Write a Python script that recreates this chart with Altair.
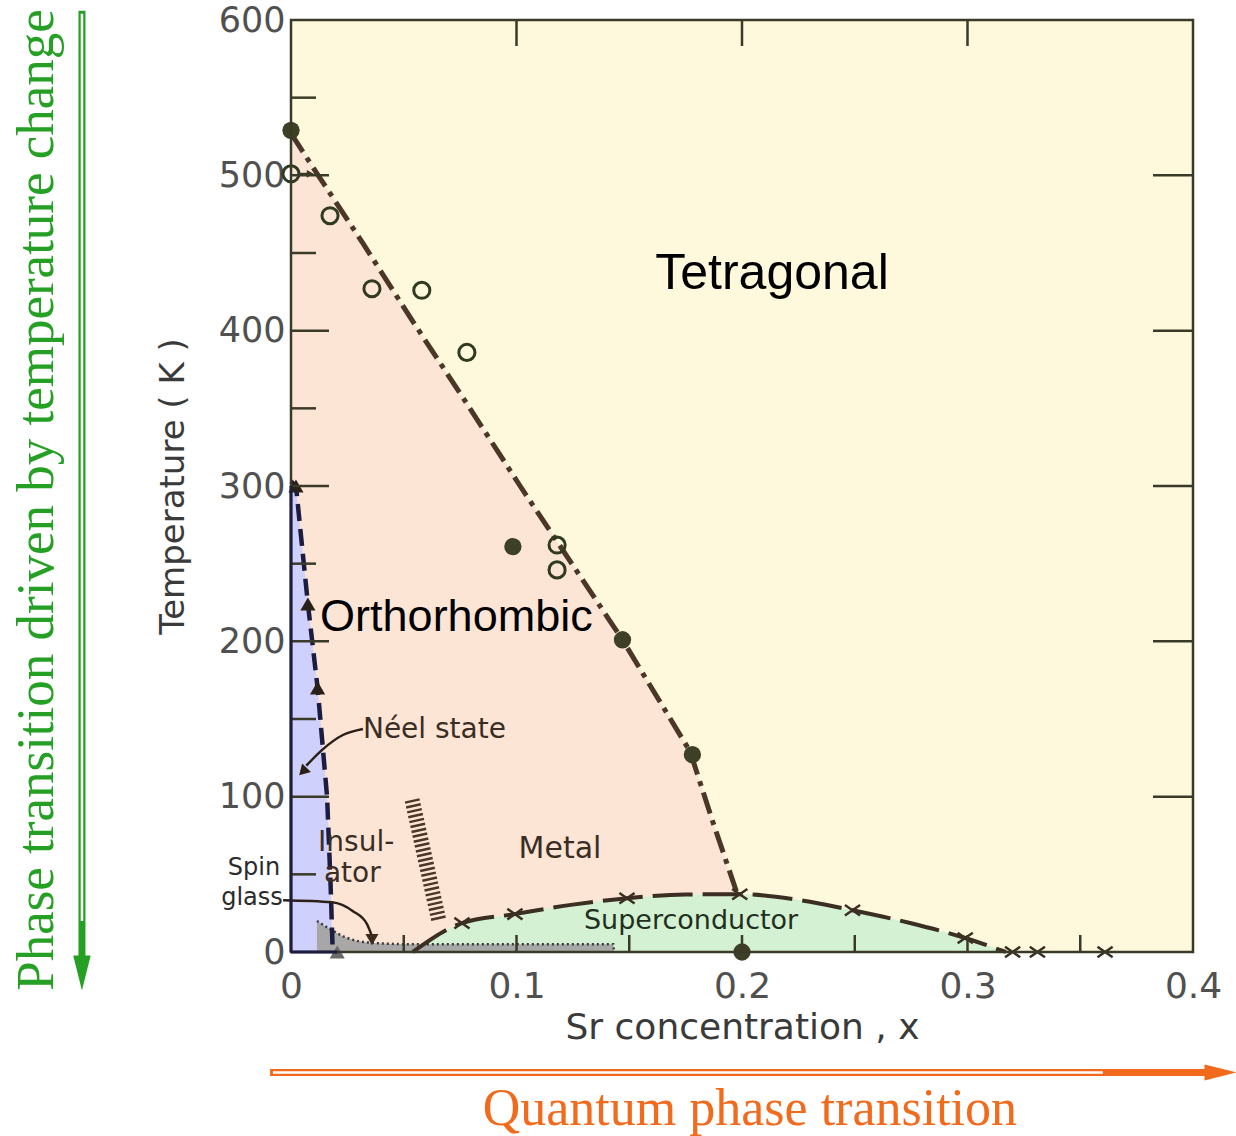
import altair as alt
import pandas as pd

# ---------------- data ----------------
# orthorhombic / tetragonal boundary (dash-dot line)
ortho_x = [0.0, 0.0098, 0.032, 0.054, 0.078, 0.1016, 0.147, 0.177, 0.187, 0.198]
ortho_T = [527, 505, 456, 406, 353, 300, 201, 129, 84, 37]

# Neel line (dashed)
neel_x = [0.0, 0.0022, 0.0075, 0.0118, 0.0160, 0.0175, 0.0185]
neel_T = [303, 300, 224, 170, 100, 46, 0]

# superconducting dome
dome_x = [0.054, 0.0758, 0.0993, 0.125, 0.149, 0.175, 0.199, 0.225, 0.249, 0.275, 0.299, 0.317]
dome_T = [0, 18.6, 24.4, 30.5, 34.6, 37.0, 37.2, 33.5, 26.9, 18.5, 9.0, 0]

# spin-glass (stippled) region
glass_x = [0.0115, 0.017, 0.025, 0.035, 0.054, 0.100, 0.143, 0.1432]
glass_T = [20, 15, 9, 6, 5, 5, 5, 0]

# measured points
open_x = [0.0, 0.0173, 0.0359, 0.058, 0.078, 0.118, 0.118]
open_T = [501, 474, 427, 426, 386, 262, 246]
filled_x = [0.0, 0.0984, 0.147, 0.178, 0.2]
filled_T = [529, 261, 201, 127, 0]
tri_x = [0.0022, 0.0075, 0.0118]
tri_T = [300, 224, 170]
tri_gray_x = [0.0205]
tri_gray_T = [0]
cross_x = [0.0758, 0.0993, 0.149, 0.199, 0.249, 0.299, 0.320, 0.331, 0.361]
cross_T = [18.6, 24.4, 34.6, 37.2, 26.9, 9.0, 0, 0, 0]

# insulator-metal crossover ladder
hatch_x = [0.0537, 0.0656]
hatch_T = [98, 20]

# leader lines of the annotations
neel_lead_x = [0.0319, 0.023, 0.0137, 0.0068]
neel_lead_T = [143.6, 139.7, 130, 120]
neel_tip_x = [0.0058]
neel_tip_T = [117]
glass_lead_x = [-0.0035, 0.0182, 0.0275, 0.0337, 0.0357]
glass_lead_T = [33.3, 32.0, 26.3, 18.0, 11]
glass_tip_x = [0.0359]
glass_tip_T = [8]
# short arrow from the open circle at x = 0
stub_x = [0.003, 0.0075]
stub_T = [501, 501]
stub_tip_x = [0.0085]
stub_tip_T = [501]

# region / annotation texts
big_text = ["Tetragonal", "Orthorhombic"]
big_x = [0.2133, 0.0129]
big_T = [436.5, 215.4]
small_text = ["Néel state", "Insul-", "ator"]
small_x = [0.0319, 0.0120, 0.0146]
small_T = [143, 70, 50.5]
mid_text = ["Metal", "Superconductor"]
mid_x = [0.1193, 0.1774]
mid_T = [66, 20]
side_text = ["Spin", "glass"]
side_x = [-0.0164, -0.0173]
side_T = [54, 35]

# outer arrows and captions (outside the plot frame)
green_arrow_x = [-0.0927, -0.0927]
green_arrow_T = [606, -6]
green_head_x = [-0.0927]
green_head_T = [-13.5]
green_caption = ["Phase transition driven by temperature change"]
green_cap_x = [-0.1126]
green_cap_T = [291]
orange_arrow_x = [-0.0093, 0.4075]
orange_arrow_T = [-77.5, -77.5]
orange_head_x = [0.4122]
orange_head_T = [-77.5]
orange_caption = ["Quantum phase transition"]
orange_cap_x = [0.2035]
orange_cap_T = [-101]

# ticks
x_label_values = [0, 0.1, 0.2, 0.3, 0.4]
y_label_values = [0, 100, 200, 300, 400, 500, 600]
top_ticks = [0.1, 0.2, 0.3]
bottom_ticks = [0.05, 0.1, 0.15, 0.2, 0.25, 0.3, 0.35]
left_major = [100, 200, 300, 400, 500]
left_minor = [50, 150, 250, 350, 450, 550]
right_ticks = [100, 200, 300, 400, 500]

# ---------------- styling ----------------
W, H = 902, 932
PEACH = "#FDE5D6"
YELLOW = "#FEF9DC"
BLUE = "#D0D0FC"
GREEN = "#D4F1D4"
DARK = "#4a3728"
NAVY = "#1c1c40"
SANS = "DejaVu Sans"
ARIAL = "Liberation Sans"
SERIF = "Liberation Serif"

xs = alt.Scale(domain=[0, 0.4], nice=False, zero=False)
ys = alt.Scale(domain=[0, 600], nice=False, zero=False)

x_axis = alt.Axis(values=x_label_values, format=".1~f", title="Sr concentration , x",
                  ticks=False, domain=False, grid=False, labelFont=SANS, labelFontSize=36,
                  labelColor="#505050", labelPadding=17, labelFlush=False, labelOverlap=False,
                  titleFont=SANS, titleFontSize=36, titleFontWeight="normal",
                  titleColor="#3a3a3a", titlePadding=6)
y_axis = alt.Axis(values=y_label_values, format="d", title="Temperature ( K )",
                  ticks=False, domain=False, grid=False, labelFont=SANS, labelFontSize=35,
                  labelColor="#505050", labelPadding=6, labelFlush=False, labelOverlap=False,
                  titleFont=SANS, titleFontSize=34, titleFontWeight="normal",
                  titleColor="#3a3a3a", titlePadding=28)


def df(**cols):
    return pd.DataFrame(cols)


def X(field="x"):
    return alt.X(field, type="quantitative", scale=xs, axis=x_axis)


def Y(field="T"):
    return alt.Y(field, type="quantitative", scale=ys, axis=y_axis)


ortho_df = df(x=ortho_x, T=ortho_T)
neel_df = df(x=neel_x, T=neel_T)
dome_df = df(x=dome_x, T=dome_T)

layers = []
# background (tetragonal) with axes
layers.append(alt.Chart(df(x=[0.0], x2=[0.4], T=[0], T2=[600])).mark_rect(color=YELLOW).encode(
    x=X("x"), x2="x2", y=Y("T"), y2="T2"))
# orthorhombic
layers.append(alt.Chart(ortho_df).mark_area(color=PEACH).encode(x=X(), y=Y()))
# Neel region
layers.append(alt.Chart(neel_df).mark_area(color=BLUE).encode(x=X(), y=Y()))
# superconducting dome
layers.append(alt.Chart(dome_df).mark_area(color=GREEN, interpolate="monotone").encode(x=X(), y=Y()))
# spin glass stipple
layers.append(alt.Chart(df(x=glass_x, T=glass_T)).mark_area(
    color="#a4a4a4", opacity=0.95, interpolate="monotone").encode(x=X(), y=Y()))
layers.append(alt.Chart(df(x=glass_x, T=glass_T)).mark_line(
    color="#3a3a3a", strokeWidth=2.5, strokeDash=[2, 3], interpolate="monotone").encode(x=X(), y=Y()))
# hatch ladder
layers.append(alt.Chart(df(x=hatch_x, T=hatch_T)).mark_line(
    color=DARK, strokeWidth=15, strokeDash=[2.5, 2.5], strokeCap="butt").encode(x=X(), y=Y()))

# boundary lines
layers.append(alt.Chart(ortho_df).mark_line(
    color=DARK, strokeWidth=5, strokeDash=[22, 7, 5, 7]).encode(x=X(), y=Y()))
layers.append(alt.Chart(neel_df).mark_line(
    color=NAVY, strokeWidth=4.5, strokeDash=[17, 8]).encode(x=X(), y=Y()))
layers.append(alt.Chart(dome_df).mark_line(
    color="#3b2e22", strokeWidth=4, strokeDash=[40, 10], interpolate="monotone").encode(x=X(), y=Y()))

# markers
layers.append(alt.Chart(df(x=open_x, T=open_T)).mark_point(
    shape="circle", filled=False, color="#2f3a20", strokeWidth=3, size=260, opacity=1).encode(x=X(), y=Y()))
layers.append(alt.Chart(df(x=stub_x, T=stub_T)).mark_line(color="#2f3a20", strokeWidth=2).encode(
    x=X(), y=Y()))
layers.append(alt.Chart(df(x=stub_tip_x, T=stub_tip_T)).mark_point(
    shape="triangle-right", filled=True, color="#2f3a20", opacity=1, size=60).encode(x=X(), y=Y()))
layers.append(alt.Chart(df(x=filled_x, T=filled_T)).mark_circle(
    color="#3d3f26", opacity=1, size=300).encode(x=X(), y=Y()))
layers.append(alt.Chart(df(x=tri_x, T=tri_T)).mark_point(
    shape="triangle-up", filled=True, color="#2b2018", opacity=1, size=230).encode(x=X(), y=Y()))
layers.append(alt.Chart(df(x=tri_gray_x, T=tri_gray_T)).mark_point(
    shape="triangle-up", filled=True, color="#6a6a6a", opacity=1, size=230).encode(x=X(), y=Y()))
layers.append(alt.Chart(df(x=cross_x, T=cross_T)).mark_point(
    shape="M-1,-0.7L1,0.7M-1,0.7L1,-0.7", filled=False, color="#3b2e22", opacity=1,
    strokeWidth=2.5, size=230).encode(x=X(), y=Y()))

# leader lines
layers.append(alt.Chart(df(x=neel_lead_x, T=neel_lead_T)).mark_line(
    color="#2b2018", strokeWidth=2.5, interpolate="monotone").encode(x=X(), y=Y(), order="T:Q"))
layers.append(alt.Chart(df(x=neel_tip_x, T=neel_tip_T)).mark_point(
    shape="triangle", angle=224, filled=True, color="#2b2018", opacity=1, size=150).encode(x=X(), y=Y()))
layers.append(alt.Chart(df(x=glass_lead_x, T=glass_lead_T)).mark_line(
    color="#2b2018", strokeWidth=2.5, interpolate="monotone").encode(x=X(), y=Y()))
layers.append(alt.Chart(df(x=glass_tip_x, T=glass_tip_T)).mark_point(
    shape="triangle-down", filled=True, color="#3b2a1e", opacity=1, size=170).encode(x=X(), y=Y()))

# region texts
layers.append(alt.Chart(df(x=big_x[:1], T=big_T[:1], t=big_text[:1])).mark_text(
    font=ARIAL, fontSize=50, color="#000000", align="center", baseline="middle").encode(
    x=X(), y=Y(), text="t:N"))
layers.append(alt.Chart(df(x=big_x[1:], T=big_T[1:], t=big_text[1:])).mark_text(
    font=ARIAL, fontSize=45, color="#000000", align="left", baseline="middle").encode(
    x=X(), y=Y(), text="t:N"))
layers.append(alt.Chart(df(x=small_x, T=small_T, t=small_text)).mark_text(
    font=SANS, fontSize=28, color="#3a2d24", align="left", baseline="middle").encode(
    x=X(), y=Y(), text="t:N"))
layers.append(alt.Chart(df(x=mid_x[:1], T=mid_T[:1], t=mid_text[:1])).mark_text(
    font=SANS, fontSize=30, color="#3a2d24", align="center", baseline="middle").encode(
    x=X(), y=Y(), text="t:N"))
layers.append(alt.Chart(df(x=mid_x[1:], T=mid_T[1:], t=mid_text[1:])).mark_text(
    font=SANS, fontSize=27, color="#1f3020", align="center", baseline="middle").encode(
    x=X(), y=Y(), text="t:N"))
layers.append(alt.Chart(df(x=side_x, T=side_T, t=side_text)).mark_text(
    font=SANS, fontSize=24, color="#2b2b2b", align="center", baseline="middle").encode(
    x=X(), y=Y(), text="t:N"))

# inward ticks
layers.append(alt.Chart(df(x=top_ticks)).mark_rule(color="#3a3a28", strokeWidth=2.5).encode(
    x=X(), y=alt.value(0), y2=alt.value(26)))
layers.append(alt.Chart(df(x=bottom_ticks)).mark_rule(color="#3a3a28", strokeWidth=2.5).encode(
    x=X(), y=alt.value(H), y2=alt.value(H - 17)))
layers.append(alt.Chart(df(T=left_major)).mark_rule(color="#3a3a28", strokeWidth=2.5).encode(
    y=Y(), x=alt.value(0), x2=alt.value(38)))
layers.append(alt.Chart(df(T=left_minor)).mark_rule(color="#3a3a28", strokeWidth=2.5).encode(
    y=Y(), x=alt.value(0), x2=alt.value(25)))
layers.append(alt.Chart(df(T=right_ticks)).mark_rule(color="#3a3a28", strokeWidth=2.5).encode(
    y=Y(), x=alt.value(W), x2=alt.value(W - 40)))

# frame
layers.append(alt.Chart(df(x=[0.0], x2=[0.4], T=[0], T2=[600])).mark_rect(
    filled=False, stroke="#3a3a28", strokeWidth=2.5).encode(x=X(), x2="x2", y=Y(), y2="T2"))
layers.append(alt.Chart(df(x=[0.0, 0.0], T=[0, 300])).mark_line(color=NAVY, strokeWidth=3).encode(
    x=X(), y=Y()))
layers.append(alt.Chart(df(x=[0.0, 0.0205], T=[0, 0])).mark_line(color=NAVY, strokeWidth=3).encode(
    x=X(), y=Y()))

# outer arrows and captions
GREEN_A = "#25a025"
ORANGE_A = "#f26a1c"
layers.append(alt.Chart(df(x=green_arrow_x, T=green_arrow_T)).mark_line(
    color=GREEN_A, strokeWidth=7).encode(x=X(), y=Y()))
layers.append(alt.Chart(df(x=green_arrow_x, T=[604, 20])).mark_line(
    color="#ffffff", strokeWidth=2.5).encode(x=X(), y=Y()))
layers.append(alt.Chart(df(x=green_head_x, T=green_head_T)).mark_point(
    shape="M-0.5,-1L0.5,-1L0,1Z", filled=True, color=GREEN_A, opacity=1, size=1225).encode(x=X(), y=Y()))
layers.append(alt.Chart(df(x=green_cap_x, T=green_cap_T, t=green_caption)).mark_text(
    font=SERIF, fontSize=53, color=GREEN_A, angle=270, align="center", baseline="middle").encode(
    x=X(), y=Y(), text="t:N"))
layers.append(alt.Chart(df(x=orange_arrow_x, T=orange_arrow_T)).mark_line(
    color=ORANGE_A, strokeWidth=7).encode(x=X(), y=Y()))
layers.append(alt.Chart(df(x=[-0.008, 0.36], T=orange_arrow_T)).mark_line(
    color="#ffffff", strokeWidth=2.5).encode(x=X(), y=Y()))
layers.append(alt.Chart(df(x=orange_head_x, T=orange_head_T)).mark_point(
    shape="M-1,-0.5L1,0L-1,0.5Z", filled=True, color=ORANGE_A, opacity=1, size=1024).encode(x=X(), y=Y()))
layers.append(alt.Chart(df(x=orange_cap_x, T=orange_cap_T, t=orange_caption)).mark_text(
    font=SERIF, fontSize=52, color=ORANGE_A, align="center", baseline="middle").encode(
    x=X(), y=Y(), text="t:N"))

chart = alt.layer(*layers).properties(
    width=W, height=H,
    padding={"left": 291, "top": 20, "right": 43, "bottom": 184},
    autosize=alt.AutoSizeParams(type="none"),
    background="#ffffff",
).configure_view(stroke=None)

chart.save("out.html", embed_options={"renderer": "svg", "actions": False})
